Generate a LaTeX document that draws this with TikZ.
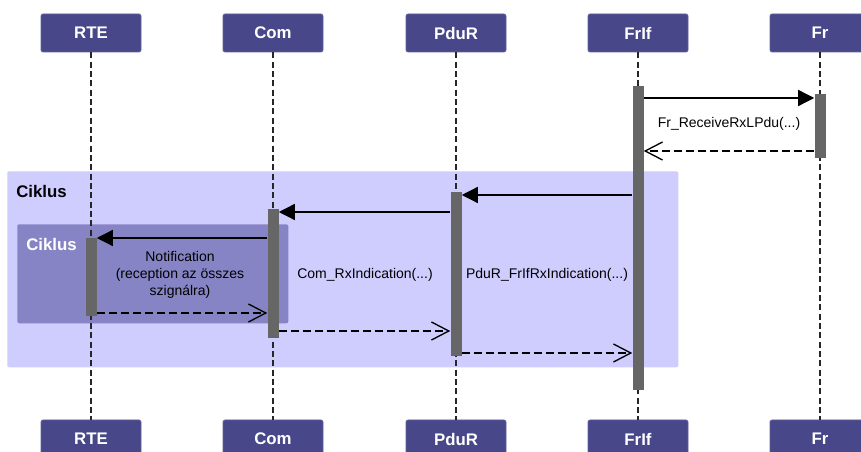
\documentclass[tikz,border=0pt]{standalone}
\usepackage{fontspec}
\setmainfont{Liberation Sans}
\usetikzlibrary{arrows.meta}
\definecolor{hdr}{HTML}{47478A}
\definecolor{outerfill}{HTML}{CFCCFE}
\definecolor{innerfill}{HTML}{8784C5}
\definecolor{actgray}{HTML}{666666}
\tikzset{
  hdrbox/.style={fill=hdr, draw=hdr!85!white, line width=0.5pt, rounded corners=1.5pt, minimum width=75pt, minimum height=28.5pt, inner sep=0pt, text=white, font=\fontsize{12.6}{14}\selectfont\bfseries},
  lifeline/.style={draw=black!85, line width=1pt, dash pattern=on 4.5pt off 2.5pt},
  actbar/.style={fill=actgray, draw=none, minimum width=8.25pt, inner sep=0pt, anchor=north},
  callmsg/.style={line width=1pt, -{Triangle[length=12pt,width=12pt]}},
  retmsg/.style={line width=1pt, dash pattern=on 6pt off 3pt, -{Straight Barb[length=13pt,width=13.5pt]}},
  lbl/.style={font=\fontsize{10.5}{12.75}\selectfont, align=center, inner sep=0pt},
  framelbl/.style={font=\fontsize{12.6}{14}\selectfont\bfseries, anchor=west, inner sep=0pt},
  loopframe/.style={draw=none, rounded corners=1.5pt}
}
\begin{document}
\begin{tikzpicture}[x=0.75pt,y=-0.75pt]
\clip (0,0) rectangle (861,452);
\fill[white] (0,0) rectangle (861,452);

% loop frames
\node[loopframe, fill=outerfill, minimum width=503.25pt, minimum height=147pt, anchor=north west, inner sep=0pt] (outer) at (7,171) {};
\node[framelbl] (outerlbl) at (16,191) {Ciklus};
\node[loopframe, fill=innerfill, minimum width=203.25pt, minimum height=74.25pt, anchor=north west, inner sep=0pt] (inner) at (17,224) {};
\node[framelbl, text=white] (innerlbl) at (26,244) {Ciklus};

% headers
\foreach \n/\t/\x in {rte/RTE/91, com/Com/273, pdur/PduR/456, frif/FrIf/638, fr/Fr/820}{
  \node[hdrbox] (\n top) at (\x,33) {\t};
  \node[hdrbox] (\n bot) at (\x,439) {\t};
  \draw[lifeline] (\n top.south) -- (\n bot.north);
}

% activations
\node[actbar, minimum height=228pt] (aFrIf) at (638,86) {};
\node[actbar, minimum height=48pt] (aFr) at (820,94) {};
\node[actbar, minimum height=123pt] (aPduR) at (456,192) {};
\node[actbar, minimum height=96.75pt] (aCom) at (273,209) {};
\node[actbar, minimum height=58.5pt] (aRTE) at (91,238) {};

% messages
\draw[callmsg] (aFrIf.east |- 0,98) -- (aFr.west |- 0,98);
\node[lbl] (l1) at (729,124) {Fr\_ReceiveRxLPdu(...)};
\draw[retmsg] (aFr.west |- 0,151) -- (aFrIf.east |- 0,151);

\draw[callmsg] (aFrIf.west |- 0,195) -- (aPduR.east |- 0,195);
\draw[callmsg] (aPduR.west |- 0,212) -- (aCom.east |- 0,212);
\draw[callmsg] (aCom.west |- 0,238) -- (aRTE.east |- 0,238);

\node[lbl] (l2) at (180,275) {Notification\\(reception az összes\\szignálra)};
\node[lbl] (l3) at (365,275) {Com\_RxIndication(...)};
\node[lbl] (l4) at (547,275) {PduR\_FrIfRxIndication(...)};

\draw[retmsg] (aRTE.east |- 0,313) -- (aCom.west |- 0,313);
\draw[retmsg] (aCom.east |- 0,331) -- (aPduR.west |- 0,331);
\draw[retmsg] (aPduR.east |- 0,353) -- (aFrIf.west |- 0,353);
\end{tikzpicture}
\end{document}
